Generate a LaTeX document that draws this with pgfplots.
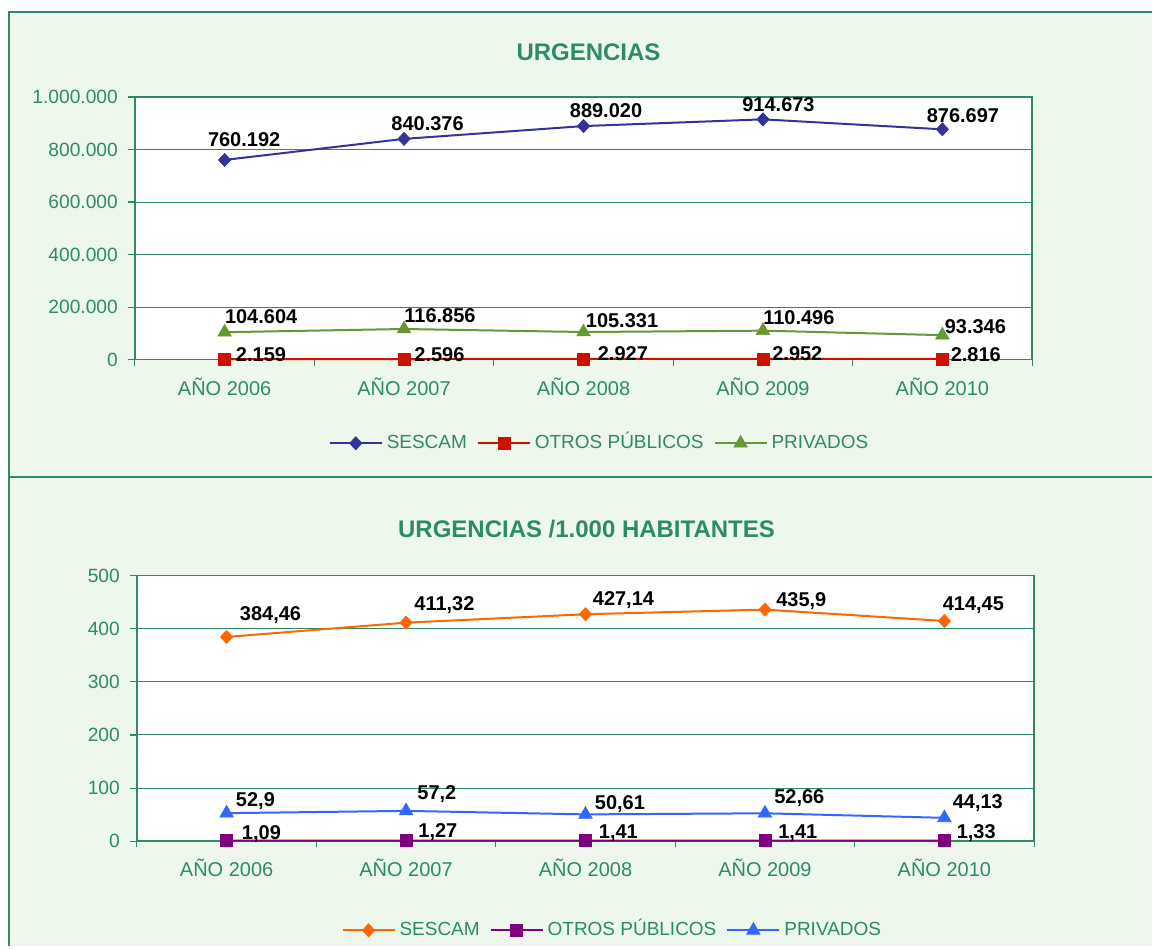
\documentclass[border=0pt]{standalone}
\usepackage{fontspec}
\setmainfont{Liberation Sans}
\usepackage{pgfplots}
\pgfplotsset{compat=1.18}
\definecolor{gcol}{HTML}{2E8B68}
\definecolor{bgc}{HTML}{EEF7EC}
\definecolor{c1}{HTML}{333399}
\definecolor{c2}{HTML}{CC1100}
\definecolor{c3}{HTML}{669933}
\definecolor{c4}{HTML}{FF6600}
\definecolor{c5}{HTML}{800080}
\definecolor{c6}{HTML}{3366FF}
\newcommand\ls[1]{\raisebox{1.3pt}{#1\vphantom{Ú}}}
\pgfplotsset{
 mystyle/.style={
  scale only axis, width=449pt, xmin=-0.5, xmax=4.5, clip=false,
  scaled y ticks=false, tick pos=left,
  axis background/.style={fill=white},
  axis line style={gcol, line width=0.8pt},
  ymajorgrids, grid style={gcol, line width=0.5pt},
  tick align=outside, major tick length=3.5pt, minor tick length=3pt,
  tick style={gcol, line width=0.6pt},
  xtick={0,...,4}, xticklabels={AÑO 2006,AÑO 2007,AÑO 2008,AÑO 2009,AÑO 2010},
  major x tick style={draw=none},
  minor xtick={-0.5,0.5,...,4.5},
  ticklabel style={text=gcol},
  xticklabel style={font=\fontsize{10}{12}\selectfont, yshift=-2pt},
  yticklabel style={font=\fontsize{9.6}{11}\selectfont, xshift=-1.5pt},
  legend columns=3,
  legend style={draw=none, fill=none, font=\fontsize{9.5}{11}\selectfont, text=gcol, anchor=center,
    /tikz/every even column/.append style={column sep=3pt},
    /tikz/every odd column/.append style={inner xsep=1pt}},
  legend image code/.code={\draw[mark repeat=2,mark phase=2] plot coordinates {(0pt,0pt) (13pt,0pt) (26pt,0pt)};},
  every axis plot/.append style={line width=1pt},
  dia/.style={mark=diamond*, mark size=3.3pt, mark options={line width=0.3pt, xscale=1.25}},
  sqr/.style={mark=square*, mark size=3pt, mark options={line width=0.3pt}},
  tri/.style={mark=triangle*, mark size=3.9pt, mark options={line width=0.3pt}},
 },
}
\tikzset{lbl/.style={inner sep=0pt, anchor=base west, font=\bfseries\fontsize{10}{12}\selectfont, text=black}}
\newcommand\lbl[5]{\node[lbl, xshift=#3*0.5pt, yshift=#4*0.5pt] at (axis cs:#1,#2) {#5};}
\begin{document}
\begin{tikzpicture}
\fill[white] (0,0) rectangle (576.5pt,-473.5pt);
\fill[bgc] (4.5pt,-6pt) rectangle (576.5pt,-473.5pt);
\draw[gcol, line width=1pt] (4.5pt,-473.5pt) -- (4.5pt,-6pt) -- (576.5pt,-6pt);
\draw[gcol, line width=1pt] (4.5pt,-238.5pt) -- (576.5pt,-238.5pt);
\node[anchor=base, text=gcol, font=\bfseries\fontsize{12}{14}\selectfont] at (294.5pt,-30.5pt) {URGENCIAS};
\node[anchor=base, text=gcol, font=\bfseries\fontsize{12}{14}\selectfont] at (293.5pt,-269pt) {URGENCIAS /1.000 HABITANTES};

\begin{axis}[mystyle, at={(67.5pt,-180pt)}, anchor=south west, height=131.5pt,
  ymin=0, ymax=1000000, ytick={0,200000,400000,600000,800000,1000000},
  yticklabels={0,200.000,400.000,600.000,800.000,1.000.000},
  legend style={at={(axis description cs:0.519,-0.318)}}]
\addplot[c1, dia] coordinates {(0,760192) (1,840376) (2,889020) (3,914673) (4,876697)};
\addlegendentry{\ls{SESCAM}}
\addplot[c2, sqr] coordinates {(0,2159) (1,2596) (2,2927) (3,2952) (4,2816)};
\addlegendentry{\ls{OTROS PÚBLICOS}}
\addplot[c3, tri] coordinates {(0,104604) (1,116856) (2,105331) (3,110496) (4,93346)};
\addlegendentry{\ls{PRIVADOS}}
\lbl{0}{760192}{-17}{13}{760.192}
\lbl{1}{840376}{-13}{8}{840.376}
\lbl{2}{889020}{-14}{9}{889.020}
\lbl{3}{914673}{-21}{8}{914.673}
\lbl{4}{876697}{-16}{7}{876.697}
\lbl{0}{104604}{0}{9}{104.604}
\lbl{1}{116856}{0}{6}{116.856}
\lbl{2}{105331}{2}{5}{105.331}
\lbl{3}{110496}{0}{6}{110.496}
\lbl{4}{93346}{2}{2}{93.346}
\lbl{0}{2159}{11}{-2}{2.159}
\lbl{1}{2596}{10}{-2}{2.596}
\lbl{2}{2927}{14}{-2}{2.927}
\lbl{3}{2952}{9}{-2}{2.952}
\lbl{4}{2816}{8}{-3}{2.816}
\end{axis}

\begin{axis}[mystyle, at={(68.5pt,-421pt)}, anchor=south west, height=133pt,
  ymin=0, ymax=500, ytick={0,100,200,300,400,500},
  yticklabels={0,100,200,300,400,500},
  legend style={at={(axis description cs:0.531,-0.335)}}]
\addplot[c4, dia] coordinates {(0,384.46) (1,411.32) (2,427.14) (3,435.9) (4,414.45)};
\addlegendentry{\ls{SESCAM}}
\addplot[c5, sqr] coordinates {(0,1.09) (1,1.27) (2,1.41) (3,1.41) (4,1.33)};
\addlegendentry{\ls{OTROS PÚBLICOS}}
\addplot[c6, tri] coordinates {(0,52.9) (1,57.2) (2,50.61) (3,52.66) (4,44.13)};
\addlegendentry{\ls{PRIVADOS}}
\lbl{0}{384.46}{13}{16}{384,46}
\lbl{1}{411.32}{8}{12}{411,32}
\lbl{2}{427.14}{7}{9}{427,14}
\lbl{3}{435.9}{11}{3}{435,9}
\lbl{4}{414.45}{-2}{11}{414,45}
\lbl{0}{52.9}{9}{7}{52,9}
\lbl{1}{57.2}{11}{11}{57,2}
\lbl{2}{50.61}{9}{5}{50,61}
\lbl{3}{52.66}{9}{10}{52,66}
\lbl{4}{44.13}{8}{9}{44,13}
\lbl{0}{1.09}{15}{1}{1,09}
\lbl{1}{1.27}{12}{3}{1,27}
\lbl{2}{1.41}{13}{2}{1,41}
\lbl{3}{1.41}{13}{2}{1,41}
\lbl{4}{1.33}{12}{2}{1,33}
\end{axis}
\end{tikzpicture}
\end{document}
